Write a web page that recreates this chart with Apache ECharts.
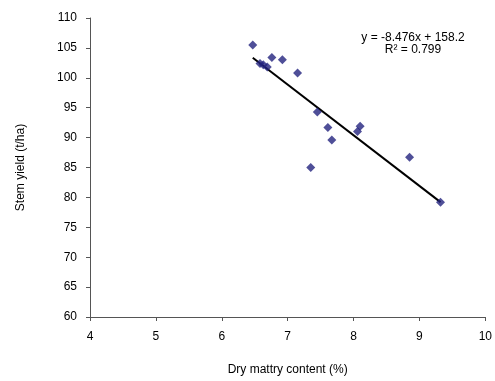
<!DOCTYPE html>
<html><head><meta charset="utf-8">
<script src="https://cdn.jsdelivr.net/npm/echarts@6/dist/echarts.min.js"></script>
<style>html,body{margin:0;padding:0;background:#fff}#c{width:495px;height:381px}</style>
</head><body><div id="c"></div>
<script>
const dryMatter = [6.47, 6.76, 6.92, 7.15, 6.58, 6.63, 6.69, 7.45, 7.61, 7.67, 7.35, 8.10, 8.06, 8.85, 9.32];
const stemYield = [105.5, 103.4, 103.0, 100.8, 102.4, 102.2, 101.8, 94.3, 91.7, 89.6, 85.0, 91.9, 91.0, 86.7, 79.2];
const slope = -8.476, intercept = 158.2;
const trendX = [Math.min(...dryMatter), Math.max(...dryMatter)];
const xTicks = [4, 5, 6, 7, 8, 9, 10];
const yTicks = [60, 65, 70, 75, 80, 85, 90, 95, 100, 105, 110];

const chart = echarts.init(document.getElementById('c'), null, {renderer: 'canvas'});
const font = 'Liberation Sans, Arial, sans-serif';
chart.setOption({
  animation: false,
  grid: {left: 90, right: 9, top: 18, bottom: 62},
  xAxis: {
    type: 'value', min: xTicks[0], max: xTicks[xTicks.length-1], interval: 1,
    name: 'Dry mattry content (%)', nameLocation: 'middle', nameGap: 47,
    nameTextStyle: {fontFamily: font, fontSize: 12, color: '#000'},
    axisLine: {lineStyle: {color: '#555', width: 1}},
    axisTick: {inside: false, length: 4, lineStyle: {color: '#555'}},
    axisLabel: {fontFamily: font, fontSize: 12, color: '#000', margin: 14},
    splitLine: {show: false}
  },
  yAxis: {
    type: 'value', min: yTicks[0], max: yTicks[yTicks.length-1], interval: 5,
    name: 'Stem yield (t/ha)', nameLocation: 'middle', nameGap: 63,
    nameTextStyle: {fontFamily: font, fontSize: 12, color: '#000'},
    axisLine: {show: true, lineStyle: {color: '#555', width: 1}},
    axisTick: {show: true, length: 4, lineStyle: {color: '#555'}},
    axisLabel: {fontFamily: font, fontSize: 12, color: '#000', margin: 13},
    splitLine: {show: false}
  },
  series: [
    {
      type: 'line',
      data: trendX.map(x => [x, slope * x + intercept]),
      symbol: 'none',
      lineStyle: {color: '#000', width: 2},
      z: 1
    },
    {
      type: 'scatter',
      data: dryMatter.map((x, i) => [x, stemYield[i]]),
      symbol: 'diamond', symbolSize: [9, 9],
      itemStyle: {color: '#23237E'},
      z: 2
    }
  ],
  graphic: [
    {type: 'text', x: 413, y: 38, style: {text: 'y = -8.476x + 158.2', font: '12px ' + font, fill: '#000', textAlign: 'center', textVerticalAlign: 'middle'}},
    {type: 'text', x: 413, y: 50, style: {text: 'R² = 0.799', font: '12px ' + font, fill: '#000', textAlign: 'center', textVerticalAlign: 'middle'}}
  ]
});
</script></body></html>
